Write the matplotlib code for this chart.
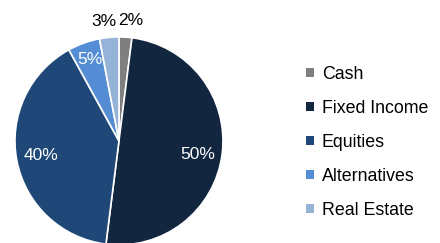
import numpy as np
import matplotlib
matplotlib.use("Agg")
import matplotlib.pyplot as plt
from matplotlib.patches import Patch

# Asset allocation data
categories = ["Cash", "Fixed Income", "Equities", "Alternatives", "Real Estate"]
shares = [2, 50, 40, 5, 3]
colors = ["#7f7f7f", "#12263f", "#1f4878", "#548dd4", "#95b3d7"]

plt.rcParams["font.family"] = ["Liberation Sans", "DejaVu Sans"]

fig = plt.figure(figsize=(4.4, 2.43), dpi=100)
ax = fig.add_axes([0.034, -0.008, 208 / 440, 208 / 243])

wedges, _ = ax.pie(
    shares,
    colors=colors,
    startangle=90,
    counterclock=False,
    wedgeprops=dict(edgecolor="white", linewidth=1.2),
)
ax.set_xlim(-1, 1)
ax.set_ylim(-1, 1)
ax.set_aspect("equal")

# Percentage labels: inside for big slices, outside for small ones
for w, v in zip(wedges, shares):
    mid = ((w.theta1 + w.theta2) / 2) % 360
    if v >= 10:
        r, col = 0.76, "white"
    elif v >= 5:
        r, col = 0.83, "white"
    else:
        r, col = 1.16, "black"
        mid += 2.0 if mid > 90 else -2.0
    a = np.deg2rad(mid)
    y = r * np.sin(a)
    if v >= 10:
        y = min(y, -0.13)
    ax.text(r * np.cos(a), y, f"{v}%", color=col,
            ha="center", va="center", fontsize=12.5, clip_on=False)

handles = [Patch(facecolor=c, edgecolor="none") for c in colors]
fig.legend(handles, categories, loc="center left", bbox_to_anchor=(0.659, 0.414),
           frameon=False, fontsize=12.8, handlelength=0.45, handleheight=0.45,
           handletextpad=0.45, labelspacing=0.96)

fig.savefig("out.png", dpi=100)
